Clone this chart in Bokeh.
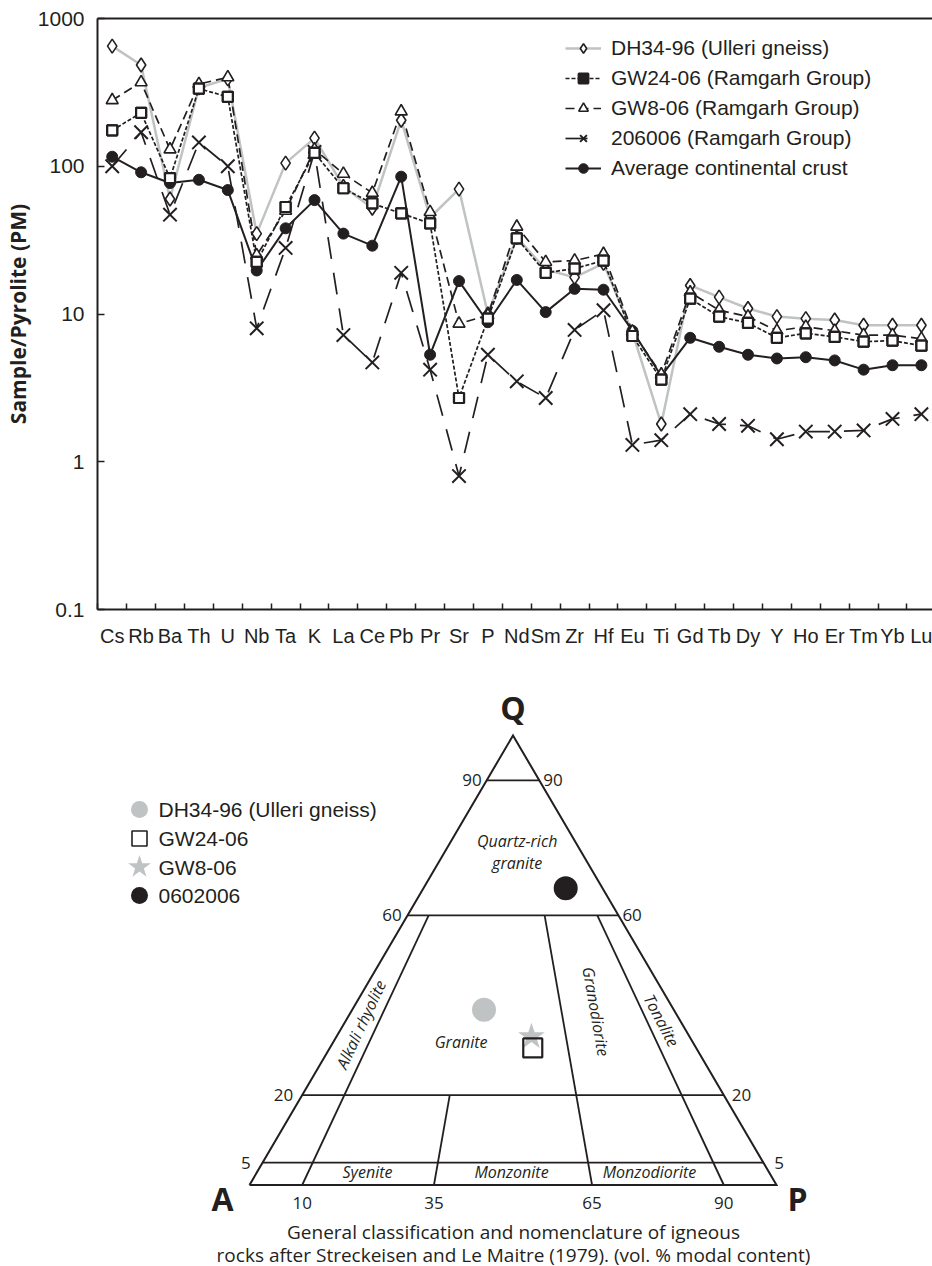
from bokeh.plotting import figure
from bokeh.models import (Range1d, FixedTicker, CustomJSTickFormatter, LinearAxis,
                          Legend, LegendItem, ColumnDataSource)
from bokeh.layouts import column
from bokeh.core.properties import value
from bokeh.embed import file_html
from bokeh.resources import INLINE

# ---------------- data: spider diagram ----------------
elements = ["Cs", "Rb", "Ba", "Th", "U", "Nb", "Ta", "K", "La", "Ce", "Pb", "Pr", "Sr", "P",
            "Nd", "Sm", "Zr", "Hf", "Eu", "Ti", "Gd", "Tb", "Dy", "Y", "Ho", "Er", "Tm", "Yb", "Lu"]
dh34_96 = [650, 485, 60, 340, 390, 35, 105, 155, 73, 52, 205, 45, 70, 10, 33, 20, 17.7, 22,
           7.5, 1.8, 15.6, 13, 10.9, 9.6, 9.3, 9.1, 8.4, 8.4, 8.4]
gw24_06 = [175, 230, 83, 335, 295, 22.5, 53, 123, 71, 56, 48, 41, 2.7, 9.3, 32.5, 19, 20.3, 23,
           7.1, 3.6, 12.7, 9.6, 8.7, 6.9, 7.4, 7.0, 6.5, 6.6, 6.1]
gw8_06 = [280, 370, 130, 360, 400, 25, 50, 130, 89, 66, 235, 49, 8.6, 9.8, 39, 22.5, 23, 25.5,
          7.6, 3.9, 14, 10.6, 9.6, 7.7, 8.2, 7.7, 7.2, 7.2, 6.8]
s206006 = [100, 170, 47, 145, 100, 8, 28, 125, 7.2, 4.7, 19, 4.2, 0.8, 5.3, 3.5, 2.7, 7.8, 10.6,
           1.3, 1.4, 2.1, 1.8, 1.75, 1.42, 1.6, 1.6, 1.63, 1.95, 2.1]
crust = [116, 91, 77, 81, 69, 19.7, 38, 59, 35, 29, 85, 5.3, 16.7, 8.8, 17, 10.3, 14.8, 14.6,
         7.7, 3.8, 6.9, 6.0, 5.3, 5.0, 5.1, 4.85, 4.2, 4.5, 4.5]
series_labels = ["DH34-96 (Ulleri gneiss)", "GW24-06 (Ramgarh Group)", "GW8-06 (Ramgarh Group)",
                 "206006 (Ramgarh Group)", "Average continental crust"]
y_ticks = [0.1, 1, 10, 100, 1000]

# ---------------- data: QAP ternary ----------------
qap_samples = ["DH34-96 (Ulleri gneiss)", "GW24-06", "GW8-06", "0602006"]
qap_Q = [39, 30.5, 33, 66]
qap_A = [36, 31, 30, 7]
qap_P = [25, 38.5, 37, 27]
q_levels = [90, 60, 20, 5]
p_ratios = [10, 35, 65, 90]
p_ratio_qmax = [60, 20, 60, 60]
field_names = ["Quartz-rich", "granite", "Granite", "Alkali rhyolite", "Granodiorite", "Tonalite",
               "Syenite", "Monzonite", "Monzodiorite"]
caption = ["General classification and nomenclature of igneous",
           "rocks after Streckeisen and Le Maitre (1979). (vol. % modal content)"]

BLACK = "#231f20"
GREY = "#bfc3c3"

# ======================= spider diagram =======================
x_idx = list(range(len(elements)))
p = figure(width=932, height=650, x_range=Range1d(-0.509, 28.384), y_range=Range1d(0.1, 1000),
           y_axis_type="log", output_backend="svg", toolbar_location=None,
           min_border_left=97, min_border_right=0, min_border_top=18, min_border_bottom=41)
p.grid.visible = False
p.outline_line_color = None

xa = p.xaxis[0]
xa.ticker = FixedTicker(ticks=x_idx, minor_ticks=[i - 0.5 for i in range(len(elements) + 1)])
xa.major_label_overrides = {i: e for i, e in enumerate(elements)}
xa.major_tick_line_color = None
xa.minor_tick_line_color = BLACK
xa.minor_tick_line_width = 1.5
xa.minor_tick_in = 6
xa.minor_tick_out = 0
xa.major_label_standoff = 9
xa.major_label_text_font = "Liberation Sans"
xa.major_label_text_font_size = "20px"
xa.major_label_text_color = BLACK
xa.axis_line_color = BLACK
xa.axis_line_width = 2

ya = p.yaxis[0]
ya.ticker = FixedTicker(ticks=y_ticks)
ya.formatter = CustomJSTickFormatter(code="return String(tick);")
ya.major_tick_in = 7
ya.major_tick_out = 0
ya.major_tick_line_color = BLACK
ya.major_tick_line_width = 1.5
ya.minor_tick_line_color = None
ya.major_label_standoff = 13
ya.major_label_text_font = "Liberation Sans"
ya.major_label_text_font_size = "21px"
ya.major_label_text_color = BLACK
ya.axis_line_color = BLACK
ya.axis_line_width = 2
ya.axis_label = "Sample/Pyrolite (PM)"
ya.axis_label_text_font = "Open Sans"
ya.axis_label_text_font_style = "bold"
ya.axis_label_text_font_size = "21px"
ya.axis_label_text_color = BLACK
ya.axis_label_standoff = 3

top_axis = LinearAxis(ticker=FixedTicker(ticks=[]), major_label_text_font_size="0px",
                      axis_line_color=BLACK, axis_line_width=2,
                      major_tick_line_color=None, minor_tick_line_color=None)
p.add_layout(top_axis, "above")

def src(vals):
    return ColumnDataSource(dict(x=x_idx, y=vals))

s_dh, s_24, s_8, s_20, s_cr = src(dh34_96), src(gw24_06), src(gw8_06), src(s206006), src(crust)

l_dh = p.line("x", "y", source=s_dh, line_color=GREY, line_width=2.5)
l_cr = p.line("x", "y", source=s_cr, line_color=BLACK, line_width=2)
l_20 = p.line("x", "y", source=s_20, line_color=BLACK, line_width=1.7, line_dash="22 14")
l_8 = p.line("x", "y", source=s_8, line_color=BLACK, line_width=1.7, line_dash="9 5")
l_24 = p.line("x", "y", source=s_24, line_color=BLACK, line_width=1.7, line_dash="4 2")

m_dh = p.scatter("x", "y", source=s_dh, marker="diamond", size=14, fill_color="white",
                 line_color=BLACK, line_width=1.6)
m_20 = p.scatter("x", "y", source=s_20, marker="x", size=19, line_color=BLACK, line_width=2)
m_cr = p.scatter("x", "y", source=s_cr, marker="circle", size=11, fill_color=BLACK,
                 line_color=BLACK)
m_8 = p.scatter("x", "y", source=s_8, marker="triangle", size=12, fill_color="white",
                line_color=BLACK, line_width=1.6)
# filled key square (used by the legend), covered by the open squares drawn on top
m_24_key = p.scatter("x", "y", source=s_24, marker="square", size=10, fill_color=BLACK,
                     line_color=BLACK, line_width=2.2)
m_24 = p.scatter("x", "y", source=s_24, marker="square", size=10, fill_color="white",
                 line_color=BLACK, line_width=2.2)

legend = Legend(items=[
    LegendItem(label=series_labels[0], renderers=[l_dh, m_dh]),
    LegendItem(label=series_labels[1], renderers=[l_24, m_24_key]),
    LegendItem(label=series_labels[2], renderers=[l_8, m_8]),
    LegendItem(label=series_labels[3], renderers=[l_20, m_20]),
    LegendItem(label=series_labels[4], renderers=[l_cr, m_cr]),
], location=(468, 429), glyph_width=36, glyph_height=24, label_height=24, spacing=6,
   padding=0, margin=0, label_standoff=10, border_line_color=None, background_fill_alpha=0,
   label_text_font="Liberation Sans", label_text_font_size="21px", label_text_color=BLACK)
p.add_layout(legend)

# ======================= QAP ternary =======================
TRI_L, TRI_R, TRI_BASE, TRI_H = 249.0, 776.0, 1184.5, 449.5
FIG_Y0, FIG_H = 650.0, 616
FRAME_X0, FRAME_X1 = 97.0, 932.0
TW = TRI_R - TRI_L

def px(x):  # page pixel x -> triangle unit x (layout helper)
    return (x - TRI_L) / TW

def py(y):  # page pixel y -> triangle unit y (layout helper)
    return (TRI_BASE - y) / TRI_H

t = figure(width=932, height=FIG_H,
           x_range=Range1d(px(FRAME_X0), px(FRAME_X1)),
           y_range=Range1d(py(FIG_Y0 + FIG_H), py(FIG_Y0)),
           output_backend="svg", toolbar_location=None,
           min_border_left=97, min_border_right=0, min_border_top=0, min_border_bottom=0)
t.axis.visible = False
t.grid.visible = False
t.outline_line_color = None

def tern(Q, A, P):
    q = Q / (Q + A + P)
    r = P / (A + P)
    return 0.5 * q + r * (1 - q), q

def qr(q, r):
    return 0.5 * q + r * (1 - q), q

# outline
t.line(x=[0, 1, 0.5, 0], y=[0, 0, 1, 0], line_color=BLACK, line_width=2, line_join="miter")
xs, ys = [], []
for ql in q_levels:
    q = ql / 100
    x0, y0 = qr(q, 0)
    x1, y1 = qr(q, 1)
    xs.append([x0, x1]); ys.append([y0, y1])
for rr, qm in zip(p_ratios, p_ratio_qmax):
    x0, y0 = qr(0, rr / 100)
    x1, y1 = qr(qm / 100, rr / 100)
    xs.append([x0, x1]); ys.append([y0, y1])
t.multi_line(xs=xs, ys=ys, line_color=BLACK, line_width=1.8)

# edge labels
lx, ly, lt, rx = [], [], [], []
left_off = [-5, -6, -9, -12]
right_off = [4, 4, 8, 11]
for ql in q_levels:
    x0, y0 = qr(ql / 100, 0)
    x1, _ = qr(ql / 100, 1)
    lx.append(x0); rx.append(x1); ly.append(y0); lt.append(str(ql))
t.text(x=lx, y=ly, text=lt, x_offset=left_off, text_align="right", text_baseline="middle",
       text_font=value("Open Sans"), text_font_size="17px", text_color=BLACK)
t.text(x=rx, y=ly, text=lt, x_offset=right_off, text_align="left", text_baseline="middle",
       text_font=value("Open Sans"), text_font_size="17px", text_color=BLACK)
bx = [qr(0, rr / 100)[0] for rr in p_ratios]
t.text(x=bx, y=[0] * len(bx), text=[str(r) for r in p_ratios], y_offset=18,
       text_align="center", text_baseline="middle",
       text_font=value("Open Sans"), text_font_size="17px", text_color=BLACK)

# apex labels
t.text(x=[0.5, 0, 1], y=[1, 0, 0], text=["Q", "A", "P"], x_offset=[0, -27, 21],
       y_offset=[-28, 13, 13], text_align="center", text_baseline="middle",
       text_font=value("Open Sans"), text_font_style="bold", text_font_size="32px",
       text_color=BLACK)

# field labels
fx = [px(516.7), px(516.7), px(460.6), px(360.5), px(595.5), px(661), px(367), px(511), px(649)]
fy = [py(840), py(862), py(1041), py(1024), py(1011), py(1020), py(1171.5), py(1171.5), py(1171.5)]
fa = [0, 0, 0, 64.9, -80.1, -62.3, 0, 0, 0]
t.text(x=fx, y=fy, text=field_names, angle=fa, angle_units="deg", text_align="center",
       text_baseline="middle", text_font=value("Open Sans"), text_font_style="italic",
       text_font_size="16px", text_color=BLACK)

# samples
sx, sy = [], []
for Q, A, P in zip(qap_Q, qap_A, qap_P):
    a, b = tern(Q, A, P)
    sx.append(a); sy.append(b)
t.scatter(x=[sx[0]], y=[sy[0]], marker="circle", size=24, fill_color=GREY, line_color=None)
t.scatter(x=[sx[2]], y=[sy[2]], marker="star", size=28, fill_color=GREY, line_color=None)
t.scatter(x=[sx[1]], y=[sy[1]], marker="square", size=19, fill_color=None, line_color=BLACK,
          line_width=2.2)
t.scatter(x=[sx[3]], y=[sy[3]], marker="circle", size=24, fill_color=BLACK, line_color=None)

# manual legend
kx = px(139)
ky = [py(809), py(838), py(866.5), py(895)]
t.scatter(x=[kx], y=[ky[0]], marker="circle", size=17, fill_color=GREY, line_color=None)
t.scatter(x=[kx], y=[ky[1]], marker="square", size=15, fill_color=None, line_color=BLACK,
          line_width=1.6)
t.scatter(x=[kx], y=[ky[2]], marker="star", size=24, fill_color=GREY, line_color=None)
t.scatter(x=[kx], y=[ky[3]], marker="circle", size=17, fill_color=BLACK, line_color=None)
t.text(x=[px(158)] * 4, y=ky, text=qap_samples, text_align="left", text_baseline="middle",
       text_font=value("Liberation Sans"), text_font_size="21px", text_color=BLACK)

# caption
t.text(x=[px(513), px(513)], y=[py(1231), py(1254)], text=caption, text_align="center",
       text_baseline="middle", text_font=value("Open Sans"), text_font_size="19px",
       text_color=BLACK)

layout = column(p, t)
open("out.html", "w").write(file_html(layout, INLINE))
